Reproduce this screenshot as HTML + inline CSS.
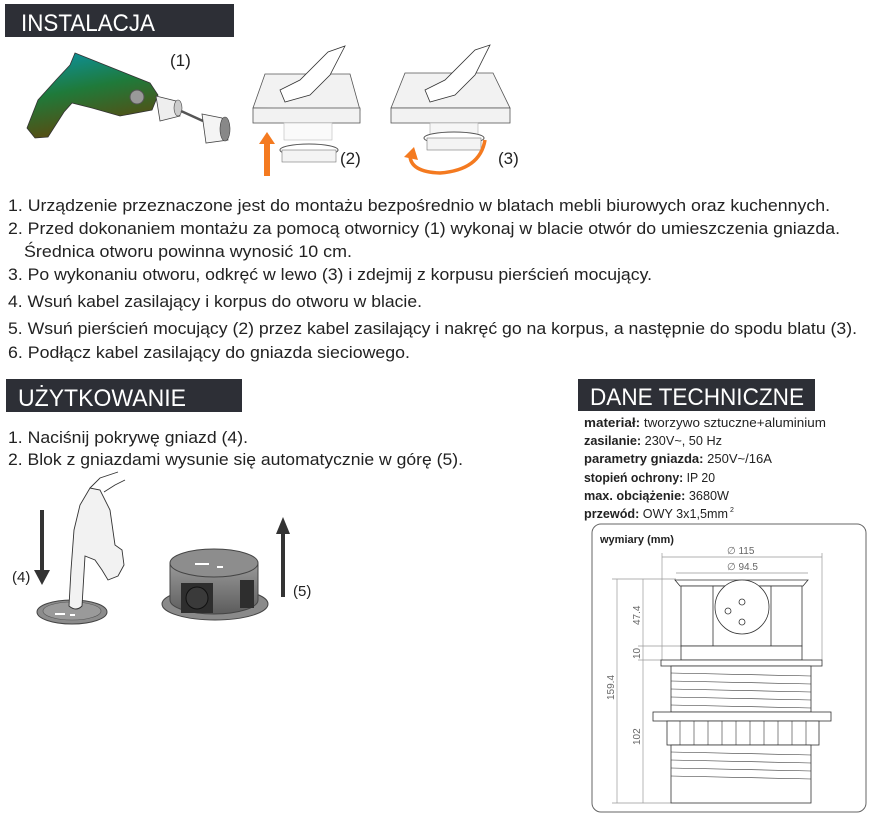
<!DOCTYPE html>
<html><head><meta charset="utf-8"><style>
html,body{margin:0;padding:0;background:#fff;}
svg{display:block;}
text{font-family:"Liberation Sans",sans-serif;}
</style></head><body>
<svg width="890" height="826" viewBox="0 0 890 826" xmlns="http://www.w3.org/2000/svg">
<defs>
<linearGradient id="dr" x1="0" y1="0" x2="0.3" y2="1">
<stop offset="0" stop-color="#0a93a8"/><stop offset="0.5" stop-color="#1f7a3a"/><stop offset="1" stop-color="#5a4a10"/>
</linearGradient>
<linearGradient id="gr" x1="0" y1="0" x2="0" y2="1"><stop offset="0" stop-color="#9a9a9a"/><stop offset="1" stop-color="#5c5c5c"/></linearGradient>
</defs>

<!-- headers -->
<rect x="5" y="4" width="229" height="33" fill="#2d2f36"/>
<text x="21" y="31" font-size="24" fill="#fff" textLength="134" lengthAdjust="spacingAndGlyphs">INSTALACJA</text>
<rect x="6" y="379" width="236" height="33" fill="#2d2f36"/>
<text x="18" y="406" font-size="24" fill="#fff" textLength="168" lengthAdjust="spacingAndGlyphs">UŻYTKOWANIE</text>
<rect x="578" y="379" width="237" height="32" fill="#2d2f36"/>
<text x="590" y="405" font-size="24" fill="#fff" textLength="214" lengthAdjust="spacingAndGlyphs">DANE TECHNICZNE</text>

<!-- drill -->
<path d="M75,53 L150,83 L158,95 L152,110 L120,116 L92,108 L72,103 L64,112 L48,137 L35,138 L27,128 L38,100 L56,80 L70,65 Z" fill="url(#dr)" stroke="#333" stroke-width="0.8"/>
<circle cx="137" cy="97" r="7" fill="#999" stroke="#555"/>
<path d="M156,96 L176,101 L180,116 L160,121 Z" fill="#eee" stroke="#444" stroke-width="0.8"/>
<ellipse cx="178" cy="108" rx="4" ry="8" fill="#ccc" stroke="#444" stroke-width="0.6"/>
<line x1="181" y1="111" x2="203" y2="121" stroke="#555" stroke-width="2.5"/>
<path d="M202,114 L222,118 L228,140 L206,143 Z" fill="#f4f4f4" stroke="#444" stroke-width="0.8"/>
<ellipse cx="225" cy="129" rx="5" ry="12" fill="#888" stroke="#444" stroke-width="0.6"/>
<text x="170" y="66" font-size="17" fill="#222">(1)</text>

<!-- panel 2 -->
<polygon points="253,108 265,74 350,74 360,110" fill="#f2f2f2" stroke="#555" stroke-width="0.8"/>
<rect x="253" y="108" width="107" height="15" fill="#f2f2f2" stroke="#555" stroke-width="0.8"/>
<path d="M280,90 L300,80 L328,52 L345,46 L330,75 L310,95 L285,102 Z" fill="#fff" stroke="#333" stroke-width="0.8"/>
<rect x="284" y="123" width="48" height="17" fill="#fafafa" stroke="#bbb" stroke-width="0.6"/>
<ellipse cx="309" cy="150" rx="29" ry="6" fill="#fff" stroke="#555"/>
<rect x="282" y="150" width="54" height="12" fill="#f4f4f4" stroke="#777" stroke-width="0.6"/>
<rect x="264" y="142" width="6" height="34" fill="#f47a20"/>
<polygon points="259,144 267,132 275,144" fill="#f47a20"/>
<text x="340" y="164" font-size="17" fill="#222">(2)</text>

<!-- panel 3 -->
<polygon points="391,108 405,73 493,73 510,108" fill="#f2f2f2" stroke="#555" stroke-width="0.8"/>
<rect x="391" y="108" width="119" height="15" fill="#f2f2f2" stroke="#555" stroke-width="0.8"/>
<path d="M425,90 L445,80 L475,50 L490,45 L475,75 L455,95 L430,102 Z" fill="#fff" stroke="#333" stroke-width="0.8"/>
<rect x="430" y="123" width="48" height="20" fill="#f6f6f6" stroke="#aaa" stroke-width="0.6"/>
<ellipse cx="454" cy="138" rx="30" ry="6" fill="#fff" stroke="#555"/>
<rect x="427" y="138" width="54" height="12" fill="#f4f4f4" stroke="#777" stroke-width="0.6"/>
<path d="M485,140 Q480,170 440,173 Q410,172 410,155" fill="none" stroke="#f47a20" stroke-width="3.5"/>
<polygon points="404,157 414,147 418,160" fill="#f47a20"/>
<text x="498" y="164" font-size="17" fill="#222">(3)</text>

<!-- instructions -->
<g font-size="17" fill="#222">
<text x="8" y="211" textLength="822" lengthAdjust="spacingAndGlyphs">1. Urządzenie przeznaczone jest do montażu bezpośrednio w blatach mebli biurowych oraz kuchennych.</text>
<text x="8" y="234" textLength="832" lengthAdjust="spacingAndGlyphs">2. Przed dokonaniem montażu za pomocą otwornicy (1) wykonaj w blacie otwór do umieszczenia gniazda.</text>
<text x="24" y="257" textLength="328" lengthAdjust="spacingAndGlyphs">Średnica otworu powinna wynosić 10 cm.</text>
<text x="8" y="280" textLength="644" lengthAdjust="spacingAndGlyphs">3. Po wykonaniu otworu, odkręć w lewo (3) i zdejmij z korpusu pierścień mocujący.</text>
<text x="8" y="307" textLength="414" lengthAdjust="spacingAndGlyphs">4. Wsuń kabel zasilający i korpus do otworu w blacie.</text>
<text x="8" y="334" textLength="849" lengthAdjust="spacingAndGlyphs">5. Wsuń pierścień mocujący (2) przez kabel zasilający i nakręć go na korpus, a następnie do spodu blatu (3).</text>
<text x="8" y="358" textLength="402" lengthAdjust="spacingAndGlyphs">6. Podłącz kabel zasilający do gniazda sieciowego.</text>
<text x="8" y="443" textLength="240" lengthAdjust="spacingAndGlyphs">1. Naciśnij pokrywę gniazd (4).</text>
<text x="8" y="465" textLength="455" lengthAdjust="spacingAndGlyphs">2. Blok z gniazdami wysunie się automatycznie w górę (5).</text>
</g>

<!-- use (4) -->
<rect x="40" y="510" width="4" height="62" fill="#333"/>
<polygon points="34,570 50,570 42,585" fill="#333"/>
<text x="12" y="582" font-size="15" fill="#222">(4)</text>
<ellipse cx="72" cy="612" rx="35" ry="12" fill="#8c8c8c" stroke="#444"/>
<ellipse cx="72" cy="611" rx="29" ry="9" fill="#9a9a9a" stroke="#555" stroke-width="0.6"/>
<rect x="55" y="613" width="10" height="2" fill="#fff"/><rect x="70" y="614" width="5" height="2" fill="#fff"/>
<path d="M69,606 L71,570 L74,530 L80,505 L90,488 L100,490 L110,510 L115,545 L122,550 L124,565 L118,576 L108,580 L102,570 L95,560 L85,556 L82,606 Q76,612 69,606 Z" fill="#f2f2f2" stroke="#333" stroke-width="0.9"/>
<path d="M90,488 L100,478 L118,472" fill="none" stroke="#333" stroke-width="0.9"/>
<path d="M104,492 L115,485 L125,480" fill="none" stroke="#333" stroke-width="0.9"/>

<!-- use (5) -->
<ellipse cx="215" cy="604" rx="53" ry="16" fill="#8a8a8a" stroke="#444"/>
<path d="M170,563 L170,600 A44,14 0 0 0 258,600 L258,563 Z" fill="url(#gr)" stroke="#444"/>
<rect x="181" y="583" width="32" height="30" fill="#2e2e2e"/>
<circle cx="197" cy="598" r="11" fill="#3a3a3a" stroke="#111"/>
<rect x="240" y="580" width="14" height="28" fill="#2e2e2e"/>
<ellipse cx="214" cy="563" rx="44" ry="14" fill="#8d8d8d" stroke="#444"/>
<rect x="195" y="563" width="14" height="2" fill="#fff"/><rect x="217" y="566" width="6" height="2" fill="#fff"/>
<rect x="281" y="532" width="4" height="65" fill="#333"/>
<polygon points="276,534 290,534 283,517" fill="#333"/>
<text x="293" y="596" font-size="15" fill="#222">(5)</text>

<!-- specs -->
<g font-family="Liberation Sans, sans-serif" font-size="12.5" fill="#222">
<text x="584" y="427" textLength="242" lengthAdjust="spacingAndGlyphs"><tspan font-weight="bold">materiał:</tspan>  tworzywo sztuczne+aluminium</text>
<text x="584" y="445" textLength="138" lengthAdjust="spacingAndGlyphs"><tspan font-weight="bold">zasilanie:</tspan> 230V~, 50 Hz</text>
<text x="584" y="463" textLength="188" lengthAdjust="spacingAndGlyphs"><tspan font-weight="bold">parametry gniazda:</tspan> 250V~/16A</text>
<text x="584" y="482" textLength="131" lengthAdjust="spacingAndGlyphs"><tspan font-weight="bold">stopień ochrony:</tspan> IP 20</text>
<text x="584" y="500" textLength="145" lengthAdjust="spacingAndGlyphs"><tspan font-weight="bold">max. obciążenie:</tspan> 3680W</text>
<text x="584" y="518" textLength="144" lengthAdjust="spacingAndGlyphs"><tspan font-weight="bold">przewód:</tspan> OWY 3x1,5mm</text>
<text x="730" y="512" font-size="7">2</text>
</g>

<!-- drawing -->
<rect x="592" y="524" width="274" height="288" rx="9" fill="#fff" stroke="#666" stroke-width="1"/>
<text x="600" y="543" font-size="11" font-weight="bold" fill="#222">wymiary (mm)</text>
<g stroke="#999" stroke-width="0.7" fill="none">
<line x1="662" y1="557" x2="822" y2="557"/><line x1="662" y1="553" x2="662" y2="660"/><line x1="822" y1="553" x2="822" y2="660"/>
<line x1="676" y1="573" x2="808" y2="573"/>
<line x1="617" y1="579" x2="617" y2="803"/><line x1="643" y1="579" x2="643" y2="803"/>
<line x1="612" y1="579" x2="676" y2="579"/><line x1="612" y1="803" x2="671" y2="803"/>
<line x1="638" y1="646" x2="681" y2="646"/><line x1="638" y1="660" x2="661" y2="660"/>
</g>
<g font-size="10" fill="#666">
<text x="727" y="554">∅ 115</text><text x="727" y="570">∅ 94.5</text>
<text transform="translate(614,700) rotate(-90)">159.4</text>
<text transform="translate(640,625) rotate(-90)">47.4</text>
<text transform="translate(640,659) rotate(-90)">10</text>
<text transform="translate(640,745) rotate(-90)">102</text>
</g>
<g stroke="#333" stroke-width="0.8" fill="#fff">
<polygon points="675,580 808,580 803,586 680,586"/>
<rect x="681" y="586" width="121" height="60"/>
<rect x="713" y="586" width="58" height="60"/>
<circle cx="742" cy="607" r="27"/>
<circle cx="742" cy="602" r="3"/><circle cx="728" cy="611" r="3"/><circle cx="742" cy="622" r="3"/>
<rect x="681" y="646" width="121" height="14"/>
<rect x="661" y="660" width="161" height="6"/>
<rect x="671" y="666" width="140" height="46"/>
<rect x="653" y="712" width="178" height="9"/>
<rect x="667" y="721" width="152" height="24"/>
<rect x="671" y="745" width="140" height="58"/>
</g>
<g stroke="#333" stroke-width="0.6">
<line x1="671" y1="673" x2="811" y2="676"/><line x1="671" y1="681" x2="811" y2="684"/><line x1="671" y1="689" x2="811" y2="692"/><line x1="671" y1="697" x2="811" y2="700"/><line x1="671" y1="705" x2="811" y2="708"/>
<line x1="671" y1="752" x2="811" y2="755"/><line x1="671" y1="760" x2="811" y2="763"/><line x1="671" y1="768" x2="811" y2="771"/><line x1="671" y1="776" x2="811" y2="779"/>
<line x1="680" y1="721" x2="680" y2="745"/><line x1="694" y1="721" x2="694" y2="745"/><line x1="708" y1="721" x2="708" y2="745"/><line x1="722" y1="721" x2="722" y2="745"/><line x1="736" y1="721" x2="736" y2="745"/><line x1="750" y1="721" x2="750" y2="745"/><line x1="764" y1="721" x2="764" y2="745"/><line x1="778" y1="721" x2="778" y2="745"/><line x1="792" y1="721" x2="792" y2="745"/><line x1="806" y1="721" x2="806" y2="745"/>
</g>
</svg>
</body></html>
